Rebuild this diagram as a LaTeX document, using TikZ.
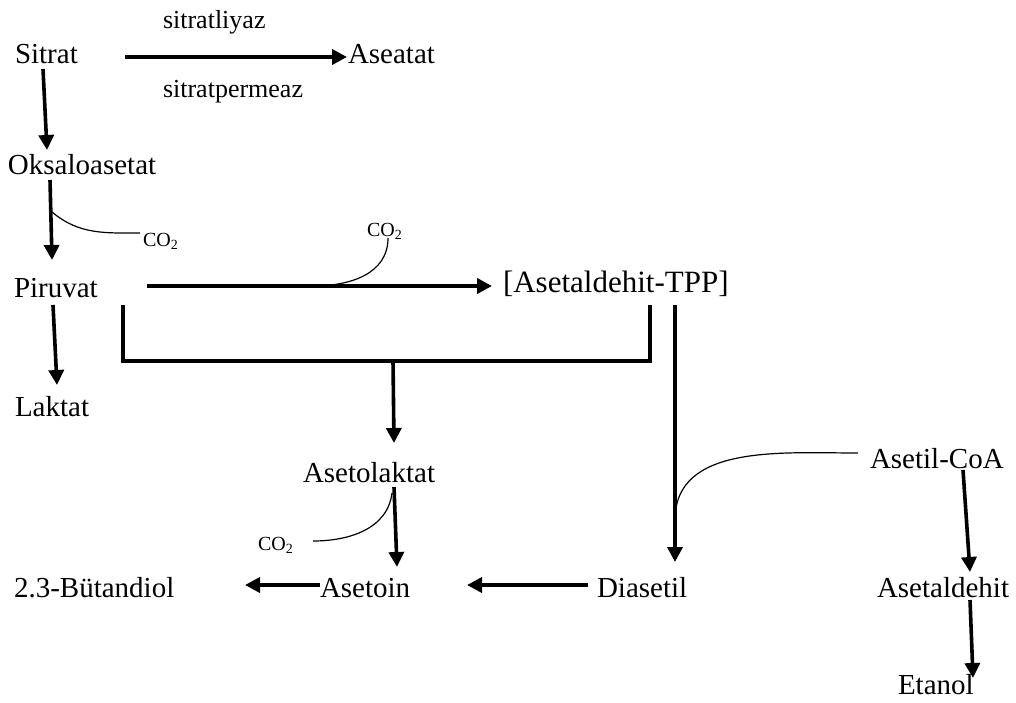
\documentclass[tikz,border=0pt]{standalone}
\usepackage{fontspec}
\setmainfont{Liberation Serif}
\usetikzlibrary{arrows.meta}
\begin{document}
\begin{tikzpicture}[x=1pt,y=-1pt,
  lbl/.style={inner sep=0pt,outer sep=0pt,anchor=base west,font=\fontsize{29}{34}\selectfont},
  enz/.style={inner sep=0pt,outer sep=0pt,anchor=base west,font=\fontsize{26}{30}\selectfont},
  cotwo/.style={inner sep=0pt,outer sep=0pt,anchor=base west,font=\fontsize{20}{24}\selectfont},
  arr/.style={line width=3.6pt,-{Triangle[length=15pt,width=15pt]}},
  bar/.style={line width=3.6pt},
  thin/.style={line width=1.2pt}]
\useasboundingbox (0,0) rectangle (1016,702);
% nodes
\node[lbl] (sitrat) at (15,63) {Sitrat};
\node[lbl] (aseatat) at (348,63) {Aseatat};
\node[enz] (liyaz) at (163,28) {sitratliyaz};
\node[enz] (permeaz) at (163,97) {sitratpermeaz};
\node[lbl] (oksalo) at (8,174) {Oksaloasetat};
\node[lbl] (piruvat) at (14,297) {Piruvat};
\node[lbl,font=\fontsize{31}{36}\selectfont] (tpp) at (503,292) {[Asetaldehit-TPP]};
\node[lbl] (laktat) at (15,416) {Laktat};
\node[lbl] (asetolaktat) at (303,482) {Asetolaktat};
\node[lbl] (asetoin) at (320,597) {Asetoin};
\node[lbl] (butandiol) at (14,597) {2.3-Bütandiol};
\node[lbl] (diasetil) at (597,597) {Diasetil};
\node[lbl] (asetilcoa) at (870,468) {Asetil-CoA};
\node[lbl] (asetaldehit) at (877,597) {Asetaldehit};
\node[lbl] (etanol) at (898,694) {Etanol};
\node[cotwo] (co2a) at (143,246) {CO\textsubscript{2}};
\node[cotwo] (co2b) at (367,236) {CO\textsubscript{2}};
\node[cotwo] (co2c) at (258,550) {CO\textsubscript{2}};
% connectors
\draw[arr] ([shift={(110,-6)}]sitrat.base west) -- ([shift={(-1,-6)}]aseatat.base west);
\draw[arr] ([shift={(28,6)}]sitrat.base west) -- ([shift={(39,-24)}]oksalo.base west);
\draw[arr] ([shift={(42,6)}]oksalo.base west) -- ([shift={(38,-37)}]piruvat.base west);
\draw[thin] ([shift={(44,38)}]oksalo.base west) to[out=-40,in=180] ([shift={(-3,-13)}]co2a.base west);
\draw[arr] ([shift={(133,-11)}]piruvat.base west) -- ([shift={(-11,-6)}]tpp.base west);
\draw[thin] ([shift={(21,2)}]co2b.base west) .. controls ([shift={(21,38)}]co2b.base west) and ([shift={(336,-11)}]piruvat.base west) .. ([shift={(299,-11)}]piruvat.base west);
\draw[arr] ([shift={(39,8)}]piruvat.base west) -- ([shift={(42,-31)}]laktat.base west);
\draw[bar] ([shift={(109,8)}]piruvat.base west) |- ([shift={(147,69)}]tpp.base west) -- ([shift={(147,13)}]tpp.base west);
\draw[arr] ([shift={(379,64)}]piruvat.base west) -- ([shift={(91,-39)}]asetolaktat.base west);
\draw[arr] ([shift={(91,5)}]asetolaktat.base west) -- ([shift={(77,-30)}]asetoin.base west);
\draw[thin] ([shift={(89,11)}]asetolaktat.base west) to[out=-97,in=0] ([shift={(55,-9)}]co2c.base west);
\draw[arr] ([shift={(0,-12)}]asetoin.base west) -- ([shift={(231,-12)}]butandiol.base west);
\draw[arr] ([shift={(-9,-12)}]diasetil.base west) -- ([shift={(147,-12)}]asetoin.base west);
\draw[arr] ([shift={(172,13)}]tpp.base west) -- ([shift={(78,-35)}]diasetil.base west);
\draw[thin] ([shift={(-12,-15)}]asetilcoa.base west) to[out=180,in=90] ([shift={(172,228)}]tpp.base west);
\draw[arr] ([shift={(93,2)}]asetilcoa.base west) -- ([shift={(93,-25)}]asetaldehit.base west);
\draw[arr] ([shift={(93,3)}]asetaldehit.base west) -- ([shift={(75,-16)}]etanol.base west);
\end{tikzpicture}
\end{document}
